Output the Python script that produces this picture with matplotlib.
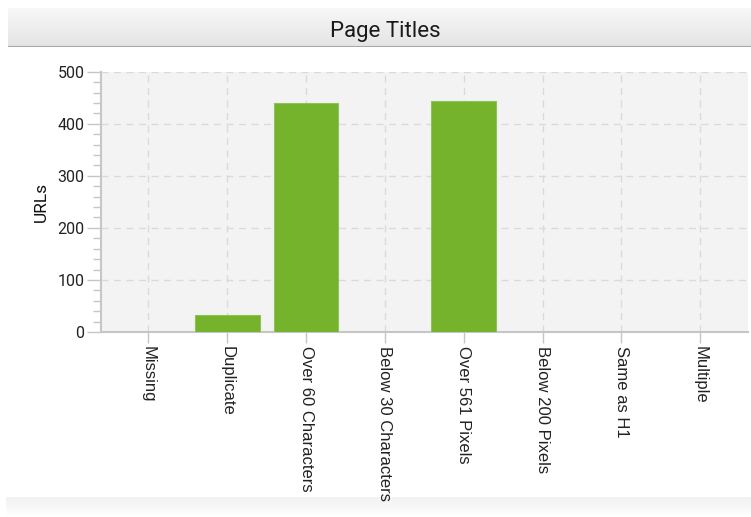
import matplotlib
matplotlib.use("Agg")
import matplotlib.pyplot as plt
import numpy as np
from matplotlib.ticker import MultipleLocator

plt.rcParams["font.family"] = ["Roboto", "DejaVu Sans"]

# Chart data
categories = [
    "Missing", "Duplicate", "Over 60 Characters", "Below 30 Characters",
    "Over 561 Pixels", "Below 200 Pixels", "Same as H1", "Multiple",
]
urls = [0, 33, 440, 0, 444, 0, 0, 0]
title = "Page Titles"
y_label = "URLs"

BAR_GREEN = "#74b32b"
GRID = "#dadada"
AXIS = "#c6c6c6"

fig = plt.figure(figsize=(7.51, 5.17), dpi=100)
fig.patch.set_facecolor("white")

# Title band with soft gradient
band = fig.add_axes([0.011, 0.909, 0.989, 0.076])
grad = np.linspace(0, 1, 50).reshape(-1, 1)
band.imshow(grad, aspect="auto", cmap=matplotlib.colors.LinearSegmentedColormap.from_list(
    "band", ["#f8f8f8", "#e4e4e4"]), extent=[0, 1, 0, 1])
band.axhline(0.0, color="#a8a8a8", lw=1.5)
band.set_xlim(0, 1)
band.set_ylim(0, 1)
band.axis("off")
fig.text(0.513, 0.940, title, ha="center", va="center", fontsize=16, color="#1a1a1a")

# Footer band
foot = fig.add_axes([0.008, 0.0, 0.992, 0.038])
foot.imshow(grad[::-1], aspect="auto", cmap=matplotlib.colors.LinearSegmentedColormap.from_list(
    "foot", ["#ffffff", "#f1f1f1"]), extent=[0, 1, 0, 1])
foot.axis("off")

ax = fig.add_axes([0.1345, 0.358, 0.861, 0.503])
ax.set_facecolor("#f3f3f3")
x = np.arange(len(categories))
ax.bar(x, urls, width=0.82, color=BAR_GREEN, edgecolor="#8fc35a", linewidth=0.8, zorder=3)

ax.set_xlim(-0.6, len(categories) - 0.4)
ax.set_ylim(0, 500)
ax.yaxis.set_major_locator(MultipleLocator(100))
ax.yaxis.set_minor_locator(MultipleLocator(20))
ax.set_xticks(x)
ax.set_xticklabels(categories, rotation=-90, fontsize=12, color="#222222",
                   family=["Liberation Sans", "DejaVu Sans"])
ax.tick_params(axis="y", labelsize=11.5, colors="#222222", length=10, width=1, color=AXIS, pad=2)
ax.tick_params(axis="y", which="minor", length=6, width=1, color=AXIS)
ax.tick_params(axis="x", length=8, width=1, color=AXIS, pad=2)
for lab in ax.get_yticklabels():
    lab.set_color("#222222")

ax.grid(True, which="major", color=GRID, linestyle=(0, (5, 4)), linewidth=1, zorder=0)
for side in ("top", "right"):
    ax.spines[side].set_visible(False)
for side in ("left", "bottom"):
    ax.spines[side].set_color(AXIS)
    ax.spines[side].set_linewidth(1.5)

ax.set_ylabel(y_label, fontsize=12.5, color="#111111", labelpad=6)

fig.savefig("out.png", dpi=100, facecolor=fig.get_facecolor())
